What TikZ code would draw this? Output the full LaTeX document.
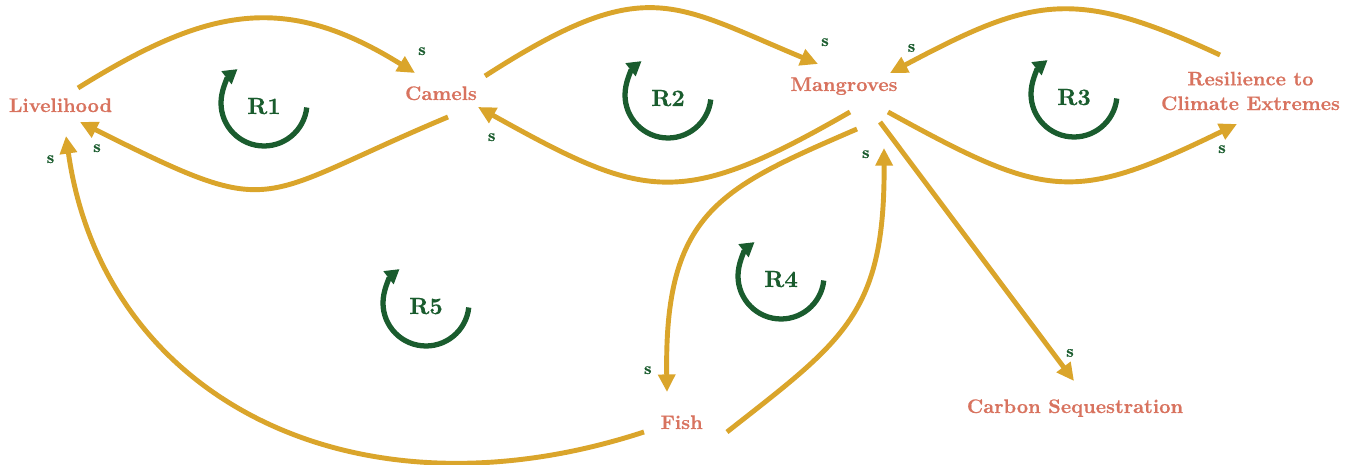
\documentclass[tikz,border=0pt]{standalone}
\usepackage{fontspec}
\usetikzlibrary{arrows.meta,calc}
% slightly heavier bold for labels
\newfontfamily\heavyfont{lmroman10-bold.otf}[FakeBold=0.5]
\definecolor{varcol}{HTML}{D8735F}
\definecolor{linkcol}{HTML}{DAA52B}
\definecolor{loopcol}{HTML}{1A5C2E}
\tikzset{
  var/.style={text=varcol, font=\fontsize{11.2}{14}\selectfont\heavyfont, inner sep=0pt, anchor=base},
  loopname/.style={text=loopcol, font=\fontsize{13.3}{16}\selectfont\heavyfont, inner sep=0pt, anchor=base},
  pol/.style={text=loopcol, font=\fontsize{9.6}{11}\selectfont\heavyfont, inner sep=0pt, anchor=base},
  link/.style={draw=linkcol, line width=2.8pt, -{Triangle[length=10pt,width=9.5pt]}},
  loopsym/.style={draw=loopcol, line width=3pt, -{Triangle[length=8pt,width=9pt]}},
}
\newcommand{\loopmark}[1]{%
  \draw[loopsym] ($(#1.base)+(0,-11)+(-6:0.86cm)$) arc[start angle=-6, end angle=-232, radius=0.86cm];}
\begin{document}
\begin{tikzpicture}[x=0.02cm, y=-0.02cm]
\useasboundingbox (0,0) rectangle (1353,465);

% variables
\node[var] (liv) at (60.5,112) {Livelihood};
\node[var] (cam) at (441,100) {Camels};
\node[var] (man) at (844,91) {Mangroves};
\node[var, anchor=center, align=center] (res) at (1250.5,91) {Resilience to\\Climate Extremes};
\node[var] (fish) at (681.7,429) {Fish};
\node[var] (car) at (1075,413) {Carbon Sequestration};

% loop names and their circular arrows
\node[loopname] (r1) at (264,114) {R1};
\node[loopname] (r2) at (668,106) {R2};
\node[loopname] (r3) at (1074,105) {R3};
\node[loopname] (r4) at (781,287) {R4};
\node[loopname] (r5) at (426,314) {R5};
\loopmark{r1}
\loopmark{r2}
\loopmark{r3}
\loopmark{r4}
\loopmark{r5}

% causal links
\draw[link] ($(liv.base)+(17.5,-24)$) .. controls (208,7) and (285,-8) .. ($(cam.base)+(-26,-27)$);
\draw[link] ($(cam.base)+(7,17)$) .. controls (250,200) and (280,222) .. ($(liv.base)+(19.5,10)$);
\draw[link] ($(cam.base)+(44,-24)$) .. controls (645,-27) and (671,3) .. ($(man.base)+(-26,-27)$);
\draw[link] ($(man.base)+(6,21)$) .. controls (680,210) and (645,200) .. ($(cam.base)+(37,7)$);
\draw[link] ($(res.center)+(-30.5,-36)$) .. controls (1074,-13) and (1033,-3) .. ($(man.base)+(46,-18)$);
\draw[link] ($(man.base)+(44,21)$) .. controls (1046,199) and (1073,204) .. ($(res.center)+(-13.5,33)$);
\draw[link] ($(man.base)+(13,38)$) .. controls (721,188) and (664,211) .. ($(fish.base)+(-14.7,-37)$);
\draw[link] ($(fish.base)+(45.3,3)$) .. controls (844,340) and (885,314) .. ($(man.base)+(40,57)$);
\draw[link] ($(man.base)+(36,31)$) -- ($(car.base)+(-1,-32)$);
\draw[link] ($(fish.base)+(-37.7,3)$) .. controls (353,527) and (103,398) .. ($(liv.base)+(5.5,24)$);

% link polarities
\node[pol] (s1) at (422,55) {s};
\node[pol] (s2) at (97,152) {s};
\node[pol] (s3) at (825,46) {s};
\node[pol] (s4) at (491.7,141) {s};
\node[pol] (s5) at (911.5,51.7) {s};
\node[pol] (s6) at (1222,153) {s};
\node[pol] (s7) at (647.8,374) {s};
\node[pol] (s8) at (865.8,158) {s};
\node[pol] (s9) at (1070,356.7) {s};
\node[pol] (s10) at (50.5,163) {s};
\end{tikzpicture}
\end{document}
